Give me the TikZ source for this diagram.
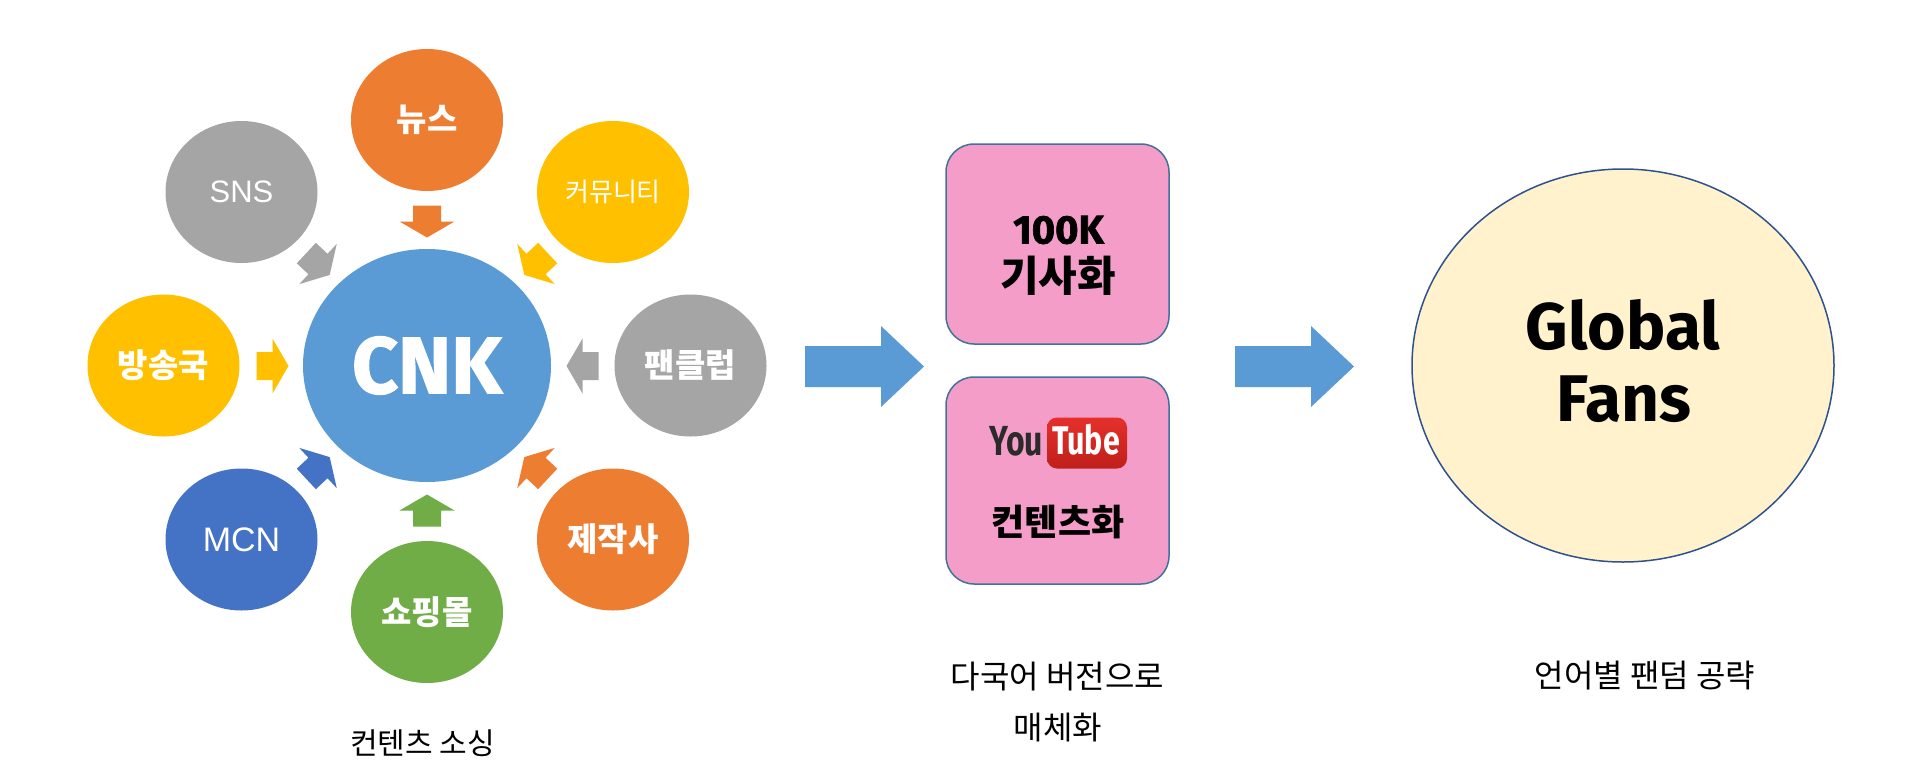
\documentclass[tikz,border=0pt]{standalone}
\usepackage{fontspec}
\usetikzlibrary{shapes.geometric}
\newfontfamily\krfont{Noto Sans CJK KR}
\newfontfamily\firafont{Fira Sans}
\newfontfamily\heavyfont[BoldFeatures={FakeBold=1.6}]{Fira Sans}
\newfontfamily\arialfont{Liberation Sans}
\newfontfamily\ytfont[FakeStretch=0.76]{Fira Sans}
\newcommand\fsz[1]{\fontsize{#1}{#1}\selectfont}
\definecolor{cblue}{HTML}{5B9BD5}
\definecolor{corange}{HTML}{ED7D31}
\definecolor{cgray}{HTML}{A5A5A5}
\definecolor{cyellow}{HTML}{FFC000}
\definecolor{cdblue}{HTML}{4472C4}
\definecolor{cgreen}{HTML}{70AD47}
\definecolor{cpink}{HTML}{F49DC8}
\definecolor{cborder}{HTML}{41719C}
\definecolor{ccream}{HTML}{FFF2CC}
\definecolor{cnavy}{HTML}{2F528F}
\definecolor{ytredA}{HTML}{E5302A}
\definecolor{ytredB}{HTML}{BF1F1B}
\definecolor{ytgray}{HTML}{2B2B2B}
\newcommand\smallarrow[4]{%
  \fill[#1, shift={(#2,#3)}, rotate=#4] (-16,-14) -- (0,-14) -- (0,-27.5) -- (16,0) -- (0,27.5) -- (0,14) -- (-16,14) -- cycle;}
\newcommand\bigarrow[2]{%
  \fill[cblue, shift={(#1,#2)}] (0,-20.5) -- (76,-20.5) -- (76,-40.5) -- (119,0) -- (76,40.5) -- (76,20.5) -- (0,20.5) -- cycle;}
\begin{document}
\begin{tikzpicture}[x=1pt,y=-1pt,
  circ/.style={ellipse, inner sep=0pt, minimum width=152pt, minimum height=142pt, text=white, font=\krfont\bfseries\fsz{33}},
  latin/.style={font=\arialfont\fsz{31}},
  lbl/.style={inner sep=0pt},
  caption/.style={inner sep=0pt, text=black, font=\krfont\fsz{31}},
  pinkbox/.style={rectangle, rounded corners=28pt, fill=cpink, draw=cborder, line width=1.5pt, minimum width=223pt, inner sep=0pt}]
\useasboundingbox (0,0) rectangle (1920,777);
\fill[white] (0,0) rectangle (1920,777);

% --- content sourcing cluster ---
\node[circ, fill=corange] (news) at (427,120) {뉴스};
\node[circ, fill=cgray, latin] (sns) at (241.5,192) {SNS};
\node[circ, fill=cyellow, font=\krfont\fsz{26}] (comm) at (613,192) {커뮤니티};
\node[circ, fill=cyellow] (bcast) at (163.5,365.5) {방송국};
\node[circ, fill=cgray] (fan) at (690.5,365.5) {팬클럽};
\node[circ, fill=cdblue, font=\arialfont\fsz{34}] (mcn) at (241.5,539.5) {MCN};
\node[circ, fill=corange] (prod) at (613,539.5) {제작사};
\node[circ, fill=cgreen] (shop) at (427,612) {쇼핑몰};
\node[ellipse, inner sep=0pt, minimum width=248pt, minimum height=233pt, fill=cblue, text=white, font=\heavyfont\bfseries\fsz{80}] (cnk) at (427,365.5) {CNK};

\smallarrow{corange}{427}{221.5}{-90}
\smallarrow{cgreen}{427}{510.5}{90}
\smallarrow{cyellow}{272.5}{366}{0}
\smallarrow{cgray}{582.5}{366}{180}
\smallarrow{cgray}{318}{264}{-43}
\smallarrow{cyellow}{536}{264}{-137}
\smallarrow{cdblue}{318}{468}{43}
\smallarrow{corange}{536}{468}{137}

\node[caption, font=\krfont\fsz{30}] (src) at (422.5,743) {컨텐츠 소싱};

% --- media boxes ---
\bigarrow{805}{366.5}
\node[pinkbox, minimum height=200pt] (box1) at (1057.5,244) {};
\node[lbl, font=\heavyfont\bfseries\fsz{40}] (k100) at (1058.5,230) {100K};
\node[lbl, font=\krfont\bfseries\fsz{42}] (article) at (1058,276) {기사화};

\node[pinkbox, minimum height=207pt] (box2) at (1057.5,480.5) {};
\node[rectangle, rounded corners=10pt, top color=ytredA, bottom color=ytredB, minimum width=80pt, minimum height=51pt, inner sep=0pt] (ytbox) at (1087,443) {};
\node[lbl, text=ytgray, font=\ytfont\bfseries\fsz{42}] (you) at (1016,441) {You};
\node[lbl, text=white, font=\ytfont\bfseries\fsz{40}] (tube) at (1086,440) {Tube};
\node[lbl, font=\krfont\bfseries\fsz{36}] (content) at (1058,522.5) {컨텐츠화};

\node[caption, font=\krfont\fsz{32}] (multi) at (1057.5,677) {다국어 버전으로};
\node[caption, font=\krfont\fsz{32}] (media) at (1058,728) {매체화};

% --- global fans ---
\bigarrow{1235}{366.5}
\node[ellipse, inner sep=0pt, minimum width=422pt, minimum height=393pt, fill=ccream, draw=cnavy, line width=1.5pt] (fans) at (1623,365.5) {};
\node[lbl, font=\firafont\bfseries\fsz{66}] (global) at (1623,325) {Global};
\node[lbl, font=\firafont\bfseries\fsz{66}] (fanst) at (1624,399.5) {Fans};
\node[caption, font=\krfont\fsz{32}] (lang) at (1645,676) {언어별 팬덤 공략};
\end{tikzpicture}
\end{document}
